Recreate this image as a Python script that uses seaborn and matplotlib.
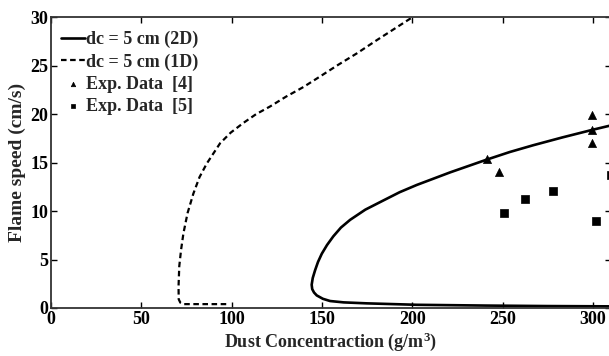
import matplotlib
matplotlib.use("Agg")
import matplotlib.pyplot as plt
import seaborn as sns
import pandas as pd

# ---- data ----
x_2d = [309, 300, 283, 267, 254, 241, 221, 202.5, 193, 184, 174, 165.6, 160.5, 156.3,
        152.8, 149.9, 147.8, 146.2, 144.9, 144.3, 144.6, 145.6, 147.1, 150.5, 154.5,
        162, 174.8, 202.5, 241, 275, 309]
y_2d = [18.8, 18.4, 17.6, 16.8, 16.1, 15.3, 14.0, 12.7, 11.95, 11.1, 10.15, 9.1, 8.3, 7.4,
        6.5, 5.6, 4.75, 3.9, 3.1, 2.4, 1.95, 1.6, 1.3, 0.95, 0.72,
        0.58, 0.48, 0.33, 0.25, 0.2, 0.17]

x_1d = [97, 73.3, 71.6, 70.7, 70.6, 71.0, 72.0, 73.3, 75.6, 78.8, 82.2, 86.2, 93.6,
        99.5, 106.5, 113.5, 121.3, 130, 139.7, 149, 159, 169.5, 180, 190, 200]
y_1d = [0.4, 0.4, 0.55, 0.9, 2.2, 4.3, 6.0, 7.7, 9.8, 11.8, 13.5, 14.9, 17.0,
        18.1, 19.1, 20.0, 20.8, 21.8, 22.8, 23.9, 25.1, 26.3, 27.6, 28.8, 30]

x_exp4 = [241.6, 248.0, 299.5, 299.5, 299.5]
y_exp4 = [15.4, 14.0, 19.9, 18.4, 17.0]

x_exp5 = [250.8, 262.3, 278.1, 301.8, 310]
y_exp5 = [9.85, 11.3, 12.1, 9.0, 13.7]

labels = ["dc = 5 cm (2D)", "dc = 5 cm (1D)", "Exp. Data  [4]", "Exp. Data  [5]"]
x_ticks = [0, 50, 100, 150, 200, 250, 300]
y_ticks = [0, 5, 10, 15, 20, 25, 30]

sns.set_style("ticks")
plt.rcParams['font.family'] = ['Liberation Serif', 'DejaVu Serif']
plt.rcParams['font.weight'] = 'bold'
plt.rcParams['axes.labelweight'] = 'bold'
plt.rcParams['mathtext.fontset'] = 'custom'
plt.rcParams['mathtext.rm'] = 'Liberation Serif:bold'
plt.rcParams['mathtext.it'] = 'Liberation Serif:bold'
plt.rcParams['mathtext.bf'] = 'Liberation Serif:bold'

fig = plt.figure(figsize=(6.09, 3.56), dpi=100)
W, H = 609, 356
left, right, top, bottom = 51, 611, 17.3, 308
ax = fig.add_axes([left / W, (H - bottom) / H, (right - left) / W, (bottom - top) / H])

df2 = pd.DataFrame({"x": x_2d, "y": y_2d})
df1 = pd.DataFrame({"x": x_1d, "y": y_1d})
d4 = pd.DataFrame({"x": x_exp4, "y": y_exp4})
d5 = pd.DataFrame({"x": x_exp5, "y": y_exp5})

sns.lineplot(data=df2, x="x", y="y", sort=False, estimator=None, ax=ax,
             color="black", linewidth=1.9, label=labels[0],
             solid_joinstyle="round", solid_capstyle="round")
sns.lineplot(data=df1, x="x", y="y", sort=False, estimator=None, ax=ax,
             color="black", linewidth=1.6, linestyle=(0, (2.5, 1.6)), label=labels[1])
sns.scatterplot(data=d4, x="x", y="y", ax=ax, marker="^", color="black",
                s=34, edgecolor="black", linewidth=0.5, label=labels[2], clip_on=False)
sns.scatterplot(data=d5, x="x", y="y", ax=ax, marker="s", color="black",
                s=38, edgecolor="black", linewidth=0.5, label=labels[3], clip_on=False)

ax.set_xlim(0, 310)
ax.set_ylim(0, 30)
ax.set_xticks(x_ticks)
ax.set_yticks(y_ticks)
ax.set_xticklabels([str(t) for t in x_ticks], fontsize=13, fontweight="bold")
ax.set_yticklabels([str(t) for t in y_ticks], fontsize=13, fontweight="bold")
ax.tick_params(direction="in", length=4, width=1.0, top=True, right=True, pad=2, colors="black")
for s in ax.spines.values():
    s.set_visible(True)
    s.set_linewidth(1.3)
    s.set_color("#333333")

ax.set_xlabel("Dust Concentraction (g/m$^{3}$)", fontsize=13, fontweight="bold", labelpad=2)
ax.set_ylabel("Flame speed (cm/s)", fontsize=14, fontweight="bold", labelpad=3)

leg = ax.legend(loc="upper left", bbox_to_anchor=(-0.006, 1.0), frameon=False,
                handlelength=1.3, handletextpad=0.05, labelspacing=0.28,
                borderaxespad=0.35, borderpad=0.4,
                markerscale=0.55, prop={"weight": "bold", "size": 13})

fig.savefig("out.png", dpi=100)
